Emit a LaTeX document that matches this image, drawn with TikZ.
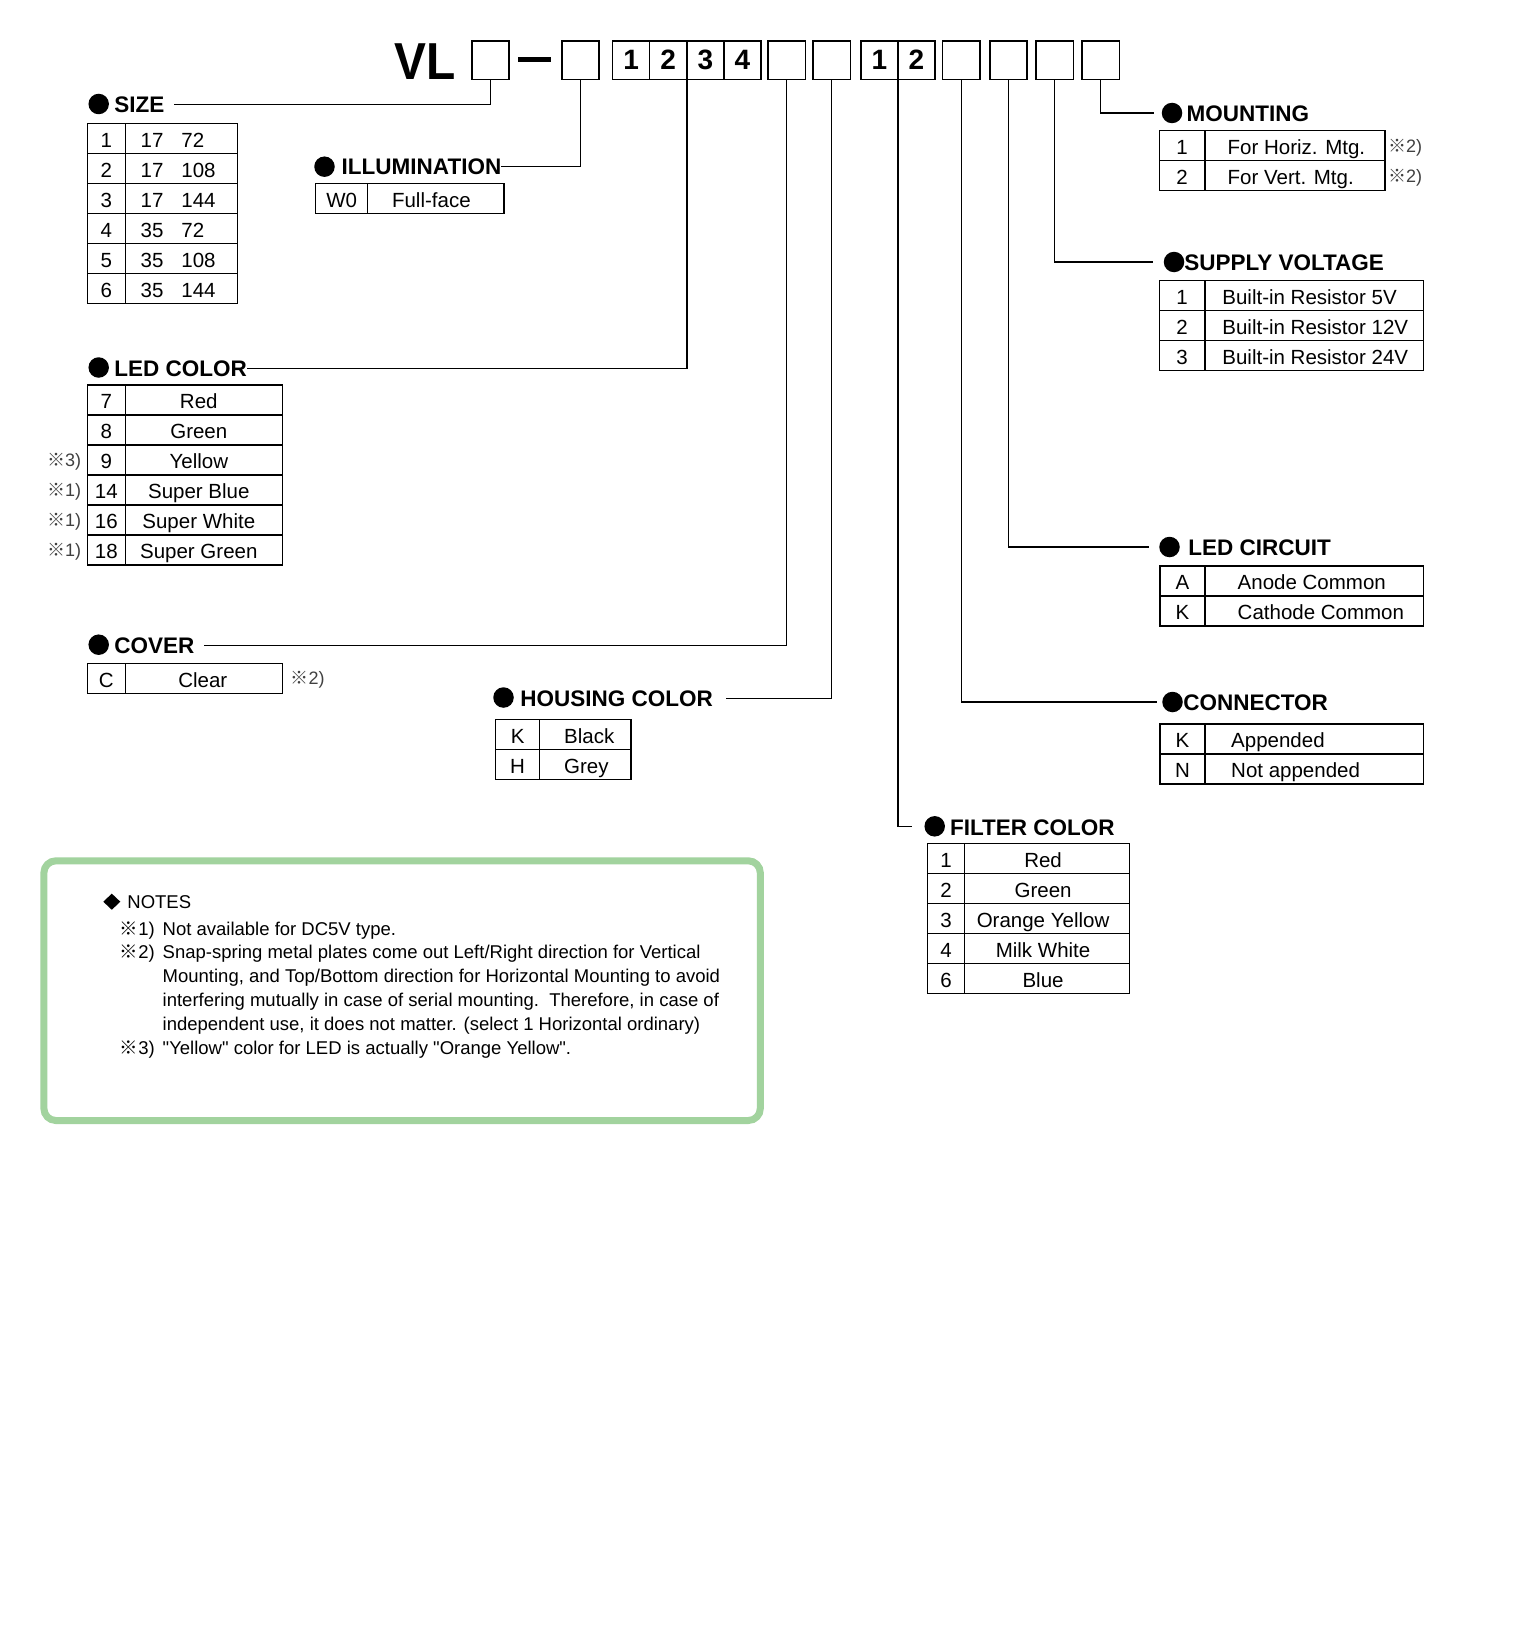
\documentclass[tikz,border=0pt]{standalone}
\usepackage{graphicx}
\usepackage{fontspec}
\setmainfont{Liberation Sans}
\newfontfamily\cjk{Noto Sans CJK JP}
\usetikzlibrary{positioning,shapes.geometric}
\definecolor{notegreen}{RGB}{162,211,158}
\newcommand{\kome}[1]{{\cjk ※}#1)}

\begin{document}
\begin{tikzpicture}[x=1pt,y=-1pt,line width=1.4pt,
  codebox/.style={draw,line width=1.5pt,outer sep=0pt,minimum width=37.2,minimum height=38.3,inner sep=0pt,font=\bfseries\fontsize{28}{30}\selectfont},
  dot/.style={circle,fill,inner sep=0pt,minimum size=20.5},
  hdr/.style={anchor=base west,inner sep=0pt,outer sep=0pt,font=\bfseries\fontsize{22.5}{26}\selectfont},
  cell/.style={draw,line width=1.5pt,outer sep=0pt,minimum height=30,inner sep=0pt,text height=17.5pt,text depth=0pt,font=\fontsize{20.5}{24}\selectfont},
  celltext/.style={inner sep=0pt,text height=17.5pt,text depth=0pt,font=\fontsize{20.5}{24}\selectfont},
  sidemark/.style={inner sep=0pt,text height=13pt,text depth=0pt,text=black!75,font=\fontsize{18}{20}\selectfont},
  notetext/.style={anchor=base west,inner sep=0pt,font=\fontsize{18.5}{22}\selectfont}]
\useasboundingbox (0,0) rectangle (1526,1640);
% code table: #1 name, #2/#3 top-left, #4 key width, #5 value width, #6 text anchor, #7 text shift, #8 rows
\newcommand{\codetab}[8]{%
  \foreach \ky/\vl [count=\i] in {#8} {
    \node[cell,minimum width=#4,anchor=north west] (#1-k\i) at (#2,#3+30*\i-30) {\ky};
    \node[cell,minimum width=#5,anchor=west] (#1-v\i) at (#1-k\i.east) {};
    \node[celltext,anchor=#6] (#1-t\i) at ([xshift=#7]#1-v\i.#6) {\vl};
  }%
}
% part number
\node[anchor=base west,inner sep=0pt,font=\bfseries\fontsize{52}{56}\selectfont] (vl) at (394,79.3) {\scalebox{0.92}[1]{VL}};
\node[codebox] (sizebox) at (490.5,60.2) {};
\draw[line width=5pt] (518,60) -- (551,60);
\node[codebox] (illumbox) at (580.4,60.2) {};
\foreach \n [count=\i] in {1,2,3,4}
  \node[codebox] (d\i) at (594+37.1*\i,60.2) {\n};
\node[codebox] (coverbox) at (786.7,60.2) {};
\node[codebox] (housebox) at (831.7,60.2) {};
\foreach \n [count=\i] in {1,2}
  \node[codebox] (f\i) at (842.6+36.9*\i,60.2) {\n};
\node[codebox] (connbox) at (961.2,60.2) {};
\node[codebox] (circbox) at (1008.4,60.2) {};
\node[codebox] (suppbox) at (1054.7,60.2) {};
\node[codebox] (mountbox) at (1100.7,60.2) {};
% headings
\node[dot] (sizedot) at (98.7,104) {};
\node[hdr] (size) at (114.3,112.3) {SIZE};
\node[dot] (illumdot) at (324.5,166.7) {};
\node[hdr] (illum) at (341.7,174.3) {ILLUMINATION};
\node[dot] (leddot) at (98.7,367.5) {};
\node[hdr] (led) at (114.3,376) {LED COLOR};
\node[dot] (coverdot) at (98.7,644.7) {};
\node[hdr] (cover) at (114.3,653.3) {COVER};
\node[dot] (housedot) at (503.5,697.5) {};
\node[hdr] (house) at (520.3,706) {HOUSING COLOR};
\node[dot] (filtdot) at (934.7,826.3) {};
\node[hdr] (filt) at (950,835) {FILTER COLOR};
\node[dot] (conndot) at (1172.5,702) {};
\node[hdr] (conn) at (1183.3,710) {CONNECTOR};
\node[dot] (circdot) at (1169.5,547) {};
\node[hdr] (circ) at (1188.3,555) {LED CIRCUIT};
\node[dot] (suppdot) at (1174,262) {};
\node[hdr] (supp) at (1184.3,270) {SUPPLY VOLTAGE};
\node[dot] (mountdot) at (1172,113) {};
\node[hdr] (mount) at (1186.7,121.7) {MOUNTING};
% leader lines
\draw (sizebox.south) |- ([xshift=10]size.east);
\draw (illumbox.south) |- (illum.east);
\draw (d2.south east) |- (led.east);
\draw (coverbox.south) |- ([xshift=10]cover.east);
\draw (housebox.south) |- ([xshift=13]house.east);
\draw (f1.south east) |- ([xshift=-12]filtdot.west);
\draw (connbox.south) |- ([xshift=-5]conndot.west);
\draw (circbox.south) |- ([xshift=-10]circdot.west);
\draw (suppbox.south) |- ([xshift=-10]suppdot.west);
\draw (mountbox.south) |- ([xshift=-7]mountdot.west);
% tables
\codetab{sz}{87.3}{123.3}{38}{112}{west}{14.7}{1/{\makebox[40.7pt][l]{17}72},2/{\makebox[40.7pt][l]{17}108},3/{\makebox[40.7pt][l]{17}144},4/{\makebox[40.7pt][l]{35}72},5/{\makebox[40.7pt][l]{35}108},6/{\makebox[40.7pt][l]{35}144}}
\codetab{il}{315.7}{183.3}{52}{136.3}{center}{-4.5}{W0/Full-face}
\codetab{lc}{87.3}{385}{38}{157}{center}{-5}{7/Red,8/Green,9/Yellow,14/Super Blue,16/Super White,18/Super Green}
\codetab{cv}{87.3}{663.3}{38}{157}{center}{-1}{C/Clear}
\codetab{hc}{495.7}{719.3}{43.8}{91.5}{west}{24}{K/Black,H/Grey}
\codetab{fc}{927.4}{843.3}{37.1}{165.1}{center}{-4}{1/Red,2/Green,3/Orange Yellow,4/Milk White,6/Blue}
\codetab{cn}{1160}{724}{45}{218.3}{west}{25.5}{K/Appended,N/Not appended}
\codetab{ci}{1160}{566}{45}{218.3}{west}{32}{A/Anode Common,K/Cathode Common}
\codetab{sv}{1159.3}{280.7}{45.7}{218.3}{west}{16.7}{1/Built-in Resistor 5V,2/Built-in Resistor 12V,3/Built-in Resistor 24V}
\codetab{mt}{1159.3}{130.7}{45.7}{180}{west}{22}{1/For Horiz. Mtg.,2/For Vert. Mtg.}
% reference marks
\node[sidemark,left=5.5pt of lc-k3] (lcm3) {\kome{3}};
\node[sidemark,left=5.5pt of lc-k4] (lcm4) {\kome{1}};
\node[sidemark,left=5.5pt of lc-k5] (lcm5) {\kome{1}};
\node[sidemark,left=5.5pt of lc-k6] (lcm6) {\kome{1}};
\node[sidemark,right=7.7pt of cv-v1] (cvm1) {\kome{2}};
\node[sidemark,right=2.5pt of mt-v1] (mtm1) {\kome{2}};
\node[sidemark,right=2.5pt of mt-v2] (mtm2) {\kome{2}};
% notes
\draw[notegreen,line width=7pt,rounded corners=12pt] (43.9,860.8) rectangle (760.3,1120.5);
\node[diamond,fill,inner sep=0pt,minimum width=17.6,minimum height=16.7] (notedia) at (111.8,901.7) {};
\node[notetext] (notehdr) at (126.7,908.3) {NOTES};
\node[notetext,anchor=base east] (nm1) at (155.5,935) {\kome{1}};
\node[notetext] (n1) at (162,935) {Not available for DC5V type.};
\node[notetext,anchor=base east] (nm2) at (155.5,958.3) {\kome{2}};
\node[notetext] (n2a) at (162,958.3) {Snap-spring metal plates come out Left/Right direction for Vertical};
\node[notetext] (n2b) at (162,982.3) {Mounting, and Top/Bottom direction for Horizontal Mounting to avoid};
\node[notetext] (n2c) at (162,1006.3) {interfering mutually in case of serial mounting.\ \ Therefore, in case of};
\node[notetext] (n2d) at (162,1030) {independent use, it does not matter. (select 1 Horizontal ordinary)};
\node[notetext,anchor=base east] (nm3) at (155.5,1054) {\kome{3}};
\node[notetext] (n3) at (162,1054) {\textquotedbl Yellow\textquotedbl{} color for LED is actually \textquotedbl Orange Yellow\textquotedbl.};
\end{tikzpicture}
\end{document}
